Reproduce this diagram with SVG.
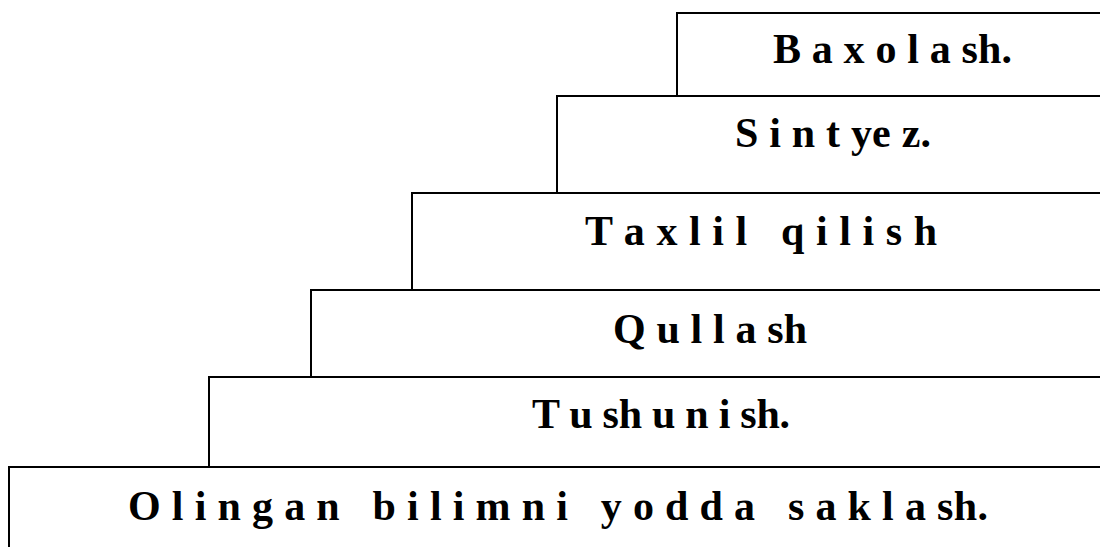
<svg xmlns="http://www.w3.org/2000/svg" width="1100" height="547" viewBox="0 0 1100 547">
<style>
.box{fill:#fff;stroke:#000;stroke-width:2}
.t{font-family:"Liberation Serif","Times New Roman",serif;font-weight:bold;font-size:42px;fill:#000;white-space:pre}
</style>
<rect width="1100" height="547" fill="#fff"/>
<g id="n6"><rect class="box" x="9" y="467" width="1110" height="100"/>
<text class="t" x="128" y="520" textLength="860" lengthAdjust="spacing" xml:space="preserve">O l i n g a n   b i l i m n i   y o d d a   s a k l a sh.</text></g>
<g id="n5"><rect class="box" x="209" y="377" width="910" height="90"/>
<text class="t" x="532" y="428" textLength="258" lengthAdjust="spacing">T u sh u n i sh.</text></g>
<g id="n4"><rect class="box" x="311" y="290" width="810" height="87"/>
<text class="t" x="613" y="343" textLength="194" lengthAdjust="spacing">Q u l l a sh</text></g>
<g id="n3"><rect class="box" x="412" y="193" width="710" height="97"/>
<text class="t" x="585" y="245" textLength="352" lengthAdjust="spacing" xml:space="preserve">T a x l i l   q i l i s h</text></g>
<g id="n2"><rect class="box" x="557" y="96" width="560" height="97"/>
<text class="t" x="735" y="147" textLength="196" lengthAdjust="spacing">S i n t ye z.</text></g>
<g id="n1"><rect class="box" x="677" y="13" width="440" height="83"/>
<text class="t" x="773" y="63" textLength="239" lengthAdjust="spacing">B a x o l a sh.</text></g>
<g id="connectors"/>
</svg>
